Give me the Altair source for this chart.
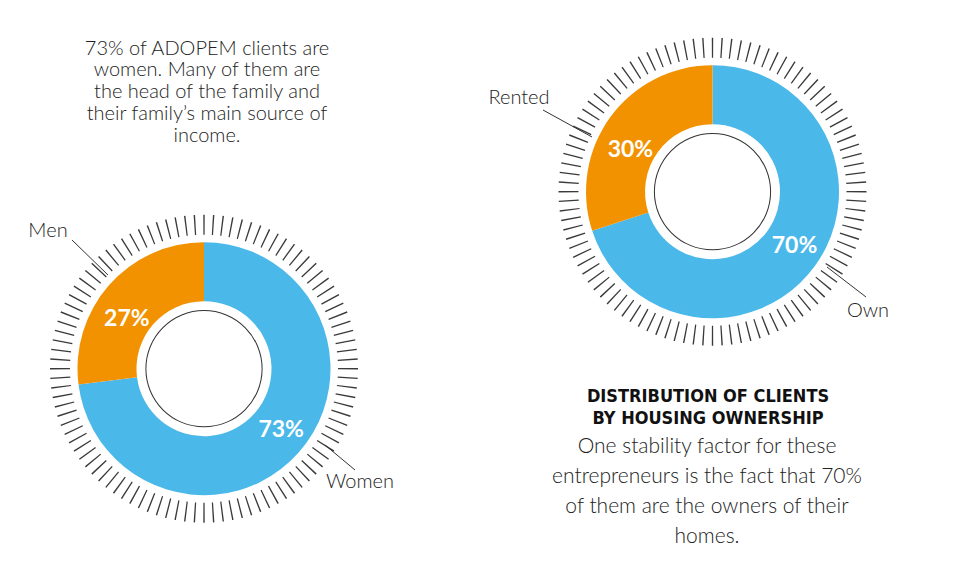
import math
import altair as alt
import pandas as pd

# ---------------- data ----------------
gender_cats = ["Women", "Men"]
gender_vals = [73, 27]
housing_cats = ["Own", "Rented"]
housing_vals = [70, 30]
n_ticks = 100

left_text = ["73% of ADOPEM clients are", "women. Many of them are",
             "the head of the family and", "their family\u2019s main source of",
             "income."]
right_title = ["DISTRIBUTION OF CLIENTS", "BY HOUSING OWNERSHIP"]
right_text = ["One stability factor for these", "entrepreneurs is the fact that 70%",
              "of them are the owners of their", "homes."]

# ---------------- style ----------------
BLUE = "#4AB8E9"
ORANGE = "#F39200"
INK = "#333333"
BODY = "#222222"
TICK = "#3a3a3a"
FONT = "Lato"
TITLE_FONT = "Noto Sans Condensed, DejaVu Sans Condensed, Roboto, sans-serif"
M = 8  # page margin

dummy = pd.DataFrame({"a": [0]})


def donut(cats, vals, cx, cy):
    df = pd.DataFrame({"cat": cats, "value": vals, "ord": list(range(len(cats))),
                       "label": [f"{v}%" for v in vals]})
    X, Y = alt.value(cx - M), alt.value(cy - M)
    base = alt.Chart(df).encode(
        theta=alt.Theta("value:Q", stack=True),
        order=alt.Order("ord:Q"),
        x=X, y=Y,
    )
    ring = base.mark_arc(radius=126.5, radius2=67.5).encode(
        color=alt.Color("cat:N", scale=alt.Scale(domain=cats, range=[BLUE, ORANGE]), legend=None)
    )
    labels = base.mark_text(radius=95, thetaOffset=-0.1, dy=6, font=FONT, fontWeight="bold",
                            fontSize=23, color="white", align="center",
                            baseline="middle").encode(text="label:N")
    ang = [2 * math.pi * i / n_ticks for i in range(n_ticks)]
    tdf = pd.DataFrame({"t0": [a - 0.0046 for a in ang], "t1": [a + 0.0046 for a in ang]})
    ticks = alt.Chart(tdf).mark_arc(radius=154, radius2=134, color=TICK).encode(
        theta=alt.Theta("t0:Q", scale=None, stack=False),
        theta2="t1:Q",
        x=X, y=Y,
    )
    circle = alt.Chart(dummy).mark_arc(radius=58.6, radius2=57.6, theta=0,
                                       theta2=2 * math.pi, color=INK).encode(x=X, y=Y)
    return [ticks, ring, circle, labels]


def rule(x1, y1, x2, y2):
    return alt.Chart(dummy).mark_rule(color=INK, strokeWidth=1).encode(
        x=alt.value(x1 - M), y=alt.value(y1 - M),
        x2=alt.value(x2 - M), y2=alt.value(y2 - M))


def text(lines, x, y, size, weight=300, font=FONT, lh=None, color=BODY):
    kw = dict(font=font, fontSize=size, fontWeight=weight, color=color,
              align="center", baseline="alphabetic")
    if lh:
        kw["lineHeight"] = lh
    return alt.Chart(dummy).mark_text(**kw).encode(
        x=alt.value(x - M), y=alt.value(y - M), text=alt.value(lines))


layers = []
layers += donut(gender_cats, gender_vals, 204, 368.7)
layers += donut(housing_cats, housing_vals, 712.5, 191.7)

layers += [
    rule(72, 240, 108, 275),
    rule(325, 445, 355, 470),
    rule(543, 110, 592, 137),
    rule(827, 267, 866, 297),
    text("Men", 48, 237, 20),
    text("Women", 360, 488, 20),
    text("Rented", 519, 104, 20),
    text("Own", 868, 317, 20),
    text(left_text, 207, 54.5, 20, lh=21.8),
    text(right_title, 708, 402, 18, weight="bold", font=TITLE_FONT, lh=22, color="#111111"),
    text(right_text, 707, 453, 21, lh=30),
]

chart = alt.layer(*layers).properties(
    width=944, height=555, padding=0, autosize="none"
).configure_view(stroke=None)

chart.save("out.html", embed_options={"renderer": "svg", "actions": False})
